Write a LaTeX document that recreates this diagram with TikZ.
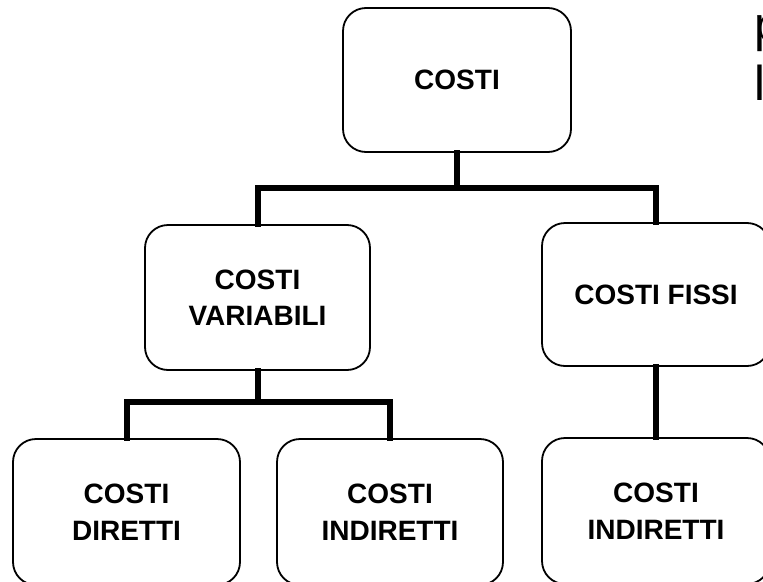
\documentclass[tikz,border=0pt]{standalone}
\usepackage{fontspec}
\setmainfont{Liberation Sans}
\begin{document}
\begin{tikzpicture}[x=1pt,y=-1pt,
  box/.style={draw=black, line width=1.8pt, fill=white, rounded corners=23pt,
    align=center, inner sep=0pt, font=\bfseries\fontsize{28}{36.5}\selectfont},
  conn/.style={draw=black, line width=6pt, line join=miter, line cap=rect},
  cut/.style={anchor=base west, inner sep=0pt, font=\fontsize{49}{58}\selectfont}]
\useasboundingbox (0,0) rectangle (763,581);
\clip (0,0) rectangle (763,581);
\fill[white] (0,0) rectangle (763,581);
\coordinate (j1) at (457,188);
\coordinate (j2) at (257.5,402);
\node[box, minimum width=228pt, minimum height=144pt] (top) at (457,80) {COSTI};
\node[box, minimum width=225pt, minimum height=145pt] (var) at (257.5,297.5) {COSTI\\VARIABILI};
\node[box, minimum width=228pt, minimum height=143pt] (fix) at (656,294.5) {COSTI FISSI};
\node[box, minimum width=227pt, minimum height=146pt] (dir) at (126.5,512) {COSTI\\DIRETTI};
\node[box, minimum width=226pt, minimum height=146pt] (ind) at (390,512) {COSTI\\INDIRETTI};
\node[box, minimum width=228pt, minimum height=146pt] (ind2) at (656,511) {COSTI\\INDIRETTI};
\draw[conn] (top.south) -- (j1);
\draw[conn] (var.north) |- (j1) -| (fix.north);
\draw[conn] (var.south) -- (j2);
\draw[conn] (dir.north) |- (j2) -| (ind.north);
\draw[conn] (fix.south) -- (ind2.north);
\node[cut] (t1) at (754,41) {p};
\node[cut] (t2) at (754,100) {l};
\end{tikzpicture}
\end{document}
